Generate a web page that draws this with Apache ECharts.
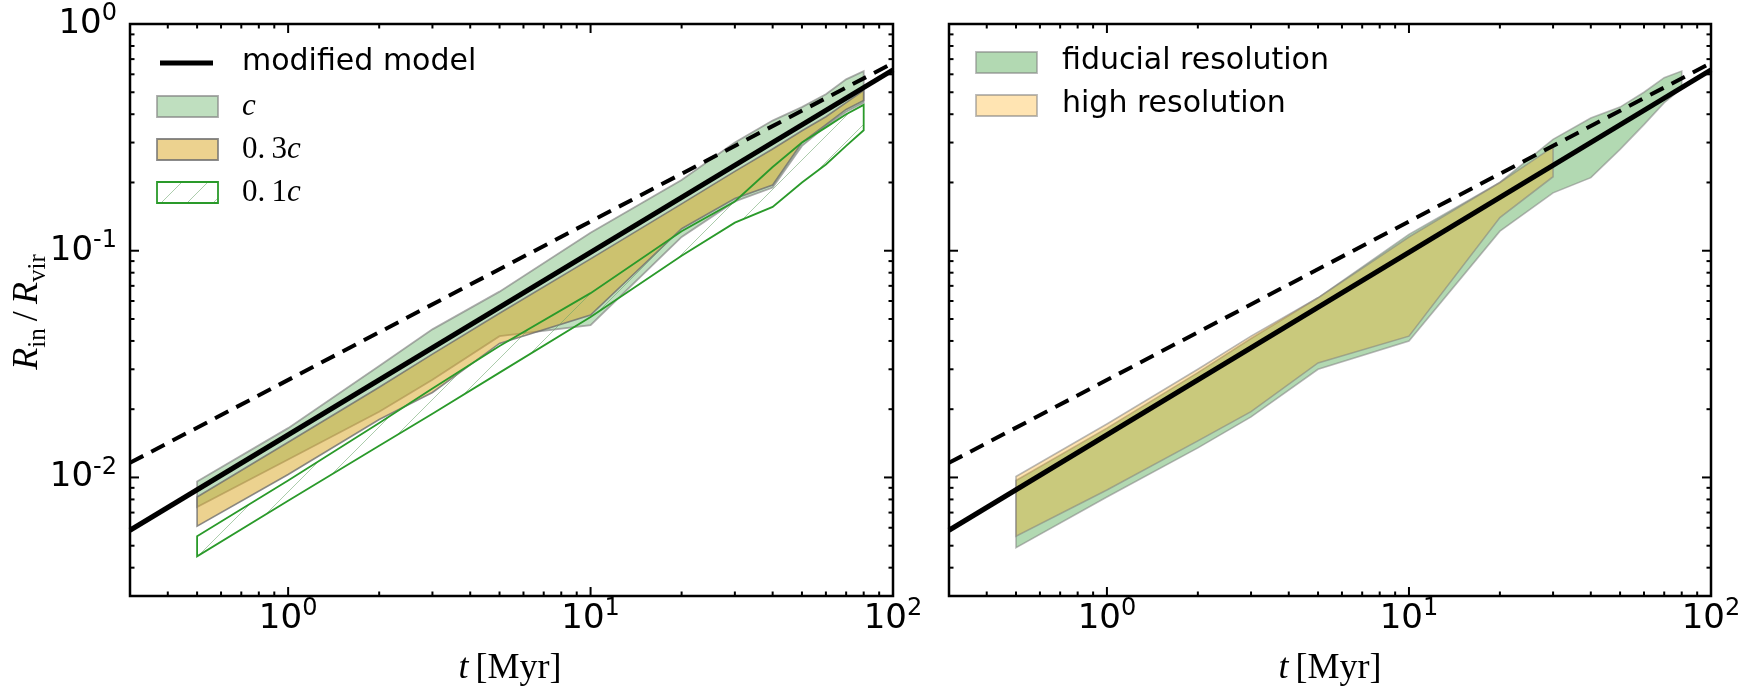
<!DOCTYPE html>
<html>
<head>
<meta charset="utf-8">
<script src="https://cdn.jsdelivr.net/npm/echarts@6.0.0/dist/echarts.min.js"></script>
<style>
  html, body { margin: 0; padding: 0; background: #fff; }
  #chart { width: 1738px; height: 690px; }
</style>
</head>
<body>
<div id="chart"></div>
<script>
// axis ranges
const xMin = 0.3, xMax = 100;
const yMin = 0.003, yMax = 1;

// tick values
const xMajor = [1, 10, 100];
const xMinor = [0.4, 0.5, 0.6, 0.7, 0.8, 0.9, 2, 3, 4, 5, 6, 7, 8, 9, 20, 30, 40, 50, 60, 70, 80, 90];
const yMajor = [0.01, 0.1, 1];
const yMinor = [0.004, 0.005, 0.006, 0.007, 0.008, 0.009, 0.02, 0.03, 0.04, 0.05, 0.06, 0.07, 0.08, 0.09,
                0.2, 0.3, 0.4, 0.5, 0.6, 0.7, 0.8, 0.9];

// model lines (straight in log-log), same in both panels
const modelLine = [[0.3, 0.00585], [100, 0.627]];
const dashedLine = [[0.3, 0.0116], [100, 0.673]];

// left panel: bands for c, 0.3c, 0.1c
const tLeft = [0.5, 1, 2, 3, 5, 10, 20, 30, 40, 50, 60, 70, 80];
const cTop  = [0.0096, 0.0165, 0.031, 0.045, 0.066, 0.12, 0.205, 0.30, 0.375, 0.43, 0.49, 0.57, 0.62];
const cBot  = [0.0074, 0.012, 0.0195, 0.027, 0.042, 0.047, 0.115, 0.165, 0.19, 0.29, 0.355, 0.41, 0.45];
const c3Top = [0.0082, 0.0143, 0.025, 0.035, 0.053, 0.092, 0.161, 0.224, 0.281, 0.338, 0.39, 0.45, 0.51];
const c3Bot = [0.0061, 0.0103, 0.018, 0.0237, 0.039, 0.052, 0.125, 0.17, 0.195, 0.30, 0.36, 0.42, 0.46];
const c1Top = [0.0055, 0.0097, 0.0174, 0.0247, 0.038, 0.065, 0.122, 0.165, 0.234, 0.30, 0.35, 0.40, 0.44];
const c1Bot = [0.00449, 0.0079, 0.0138, 0.0191, 0.029, 0.051, 0.095, 0.133, 0.156, 0.20, 0.24, 0.29, 0.34];

// right panel: fiducial and high resolution
const tFid   = [0.5, 1, 2, 3, 5, 10, 20, 30, 40, 50, 60, 70, 80];
const fidTop = [0.0097, 0.0165, 0.029, 0.041, 0.062, 0.118, 0.20, 0.31, 0.385, 0.43, 0.50, 0.58, 0.62];
const fidBot = [0.0049, 0.0082, 0.0135, 0.0185, 0.030, 0.040, 0.122, 0.18, 0.21, 0.28, 0.36, 0.45, 0.52];
const tHigh   = [0.5, 1, 2, 3, 5, 10, 20, 30];
const highTop = [0.0101, 0.0172, 0.030, 0.042, 0.062, 0.115, 0.20, 0.287];
const highBot = [0.0055, 0.0088, 0.0145, 0.0195, 0.032, 0.042, 0.14, 0.212];

const chart = echarts.init(document.getElementById('chart'));

// hatch pattern for the 0.1c band
function hatchCanvas() {
    const s = 26;
    const c = document.createElement('canvas');
    c.width = s; c.height = s;
    const g = c.getContext('2d');
    g.strokeStyle = 'rgba(100,160,100,0.6)';
    g.lineWidth = 0.9;
    g.beginPath();
    g.moveTo(0, s); g.lineTo(s, 0);
    g.moveTo(-3, 3); g.lineTo(3, -3);
    g.moveTo(s - 3, s + 3); g.lineTo(s + 3, s - 3);
    g.stroke();
    return c;
}
const hatch = { image: hatchCanvas(), repeat: 'repeat' };

// tick labels like 10^-1
const powRich = {
    b: { fontSize: 34, fontFamily: 'DejaVu Sans', color: '#000', lineHeight: 44, verticalAlign: 'middle' },
    s: { fontSize: 24, fontFamily: 'DejaVu Sans', color: '#000', lineHeight: 24, verticalAlign: 'top' }
};
function powLabel(v) {
    const e = Math.log10(v);
    const r = Math.round(e);
    if (Math.abs(e - r) > 1e-6) return '';
    return '{b|10}{s|' + r + '}';
}

function xAxisFor(i) {
    return {
        type: 'log', logBase: 10, gridIndex: i, min: xMin, max: xMax,
        axisLine: { show: false }, axisTick: { show: false },
        splitLine: { show: false }, minorTick: { show: false }, minorSplitLine: { show: false },
        axisLabel: { margin: 1, formatter: powLabel, rich: powRich }
    };
}
function yAxisFor(i) {
    return {
        type: 'log', logBase: 10, gridIndex: i, min: yMin, max: yMax,
        axisLine: { show: false }, axisTick: { show: false },
        splitLine: { show: false }, minorTick: { show: false }, minorSplitLine: { show: false },
        axisLabel: { show: i === 0, margin: 13, formatter: powLabel, rich: powRich }
    };
}

// filled band between top and bottom curves
function bandSeries(i, ts, top, bot, style) {
    return {
        type: 'custom', xAxisIndex: i, yAxisIndex: i, silent: true,
        data: ts.map((t, k) => [t, top[k], bot[k]]),
        encode: { x: 0, y: 1 },
        renderItem: (params, api) => {
            if (params.dataIndex !== 0) return null;
            const pts = [];
            for (let k = 0; k < ts.length; k++) pts.push(api.coord([ts[k], top[k]]));
            for (let k = ts.length - 1; k >= 0; k--) pts.push(api.coord([ts[k], bot[k]]));
            return { type: 'polygon', shape: { points: pts }, style: style };
        }
    };
}

function lineSeries(i, data, dashed) {
    return {
        type: 'line', xAxisIndex: i, yAxisIndex: i, data: data, silent: true,
        symbol: 'none', animation: false,
        lineStyle: { color: '#000', width: dashed ? 4 : 5, type: dashed ? [15, 9] : 'solid', cap: 'butt' }
    };
}

// inward ticks on all four sides
function tickSeries(i, vals, dir, len) {
    return {
        type: 'custom', xAxisIndex: i, yAxisIndex: i, silent: true, z: 5,
        data: vals.map(v => dir === 'x' ? [v, yMin] : [xMin, v]),
        encode: { x: 0, y: 1 },
        renderItem: (params, api) => {
            const v = api.value(dir === 'x' ? 0 : 1);
            const st = { stroke: '#000', lineWidth: 2 };
            if (dir === 'x') {
                const a = api.coord([v, yMin]), b = api.coord([v, yMax]);
                return { type: 'group', children: [
                    { type: 'line', shape: { x1: a[0], y1: a[1], x2: a[0], y2: a[1] - len }, style: st },
                    { type: 'line', shape: { x1: b[0], y1: b[1], x2: b[0], y2: b[1] + len }, style: st }
                ] };
            }
            const a = api.coord([xMin, v]), b = api.coord([xMax, v]);
            return { type: 'group', children: [
                { type: 'line', shape: { x1: a[0], y1: a[1], x2: a[0] + len, y2: a[1] }, style: st },
                { type: 'line', shape: { x1: b[0], y1: b[1], x2: b[0] - len, y2: b[1] }, style: st }
            ] };
        }
    };
}

const series = [
    bandSeries(0, tLeft, cTop, cBot, { fill: 'rgba(0,128,0,0.25)', stroke: 'rgba(128,128,128,0.65)', lineWidth: 1.8 }),
    bandSeries(0, tLeft, c3Top, c3Bot, { fill: 'rgba(218,165,32,0.5)', stroke: 'rgba(110,110,110,0.8)', lineWidth: 1.6 }),
    bandSeries(0, tLeft, c1Top, c1Bot, { fill: hatch, stroke: '#2a9a2a', lineWidth: 1.8 }),
    lineSeries(0, dashedLine, true),
    lineSeries(0, modelLine, false),
    bandSeries(1, tFid, fidTop, fidBot, { fill: 'rgba(0,128,0,0.3)', stroke: 'rgba(128,128,128,0.55)', lineWidth: 1.6 }),
    bandSeries(1, tHigh, highTop, highBot, { fill: 'rgba(255,165,0,0.3)', stroke: 'rgba(128,128,128,0.55)', lineWidth: 1.6 }),
    lineSeries(1, dashedLine, true),
    lineSeries(1, modelLine, false)
];
[0, 1].forEach(i => {
    series.push(tickSeries(i, xMajor, 'x', 9), tickSeries(i, xMinor, 'x', 4.5),
                tickSeries(i, yMajor, 'y', 9), tickSeries(i, yMinor, 'y', 4.5));
});

const serif = 'Liberation Serif';
const mathRich = {
    i: { fontFamily: serif, fontStyle: 'italic', fontSize: 31, color: '#000', lineHeight: 40, verticalAlign: 'middle' },
    n: { fontFamily: serif, fontSize: 31, color: '#000', lineHeight: 40, verticalAlign: 'middle' }
};
const labelRich = {
    i: { fontFamily: serif, fontStyle: 'italic', fontSize: 36, color: '#000', lineHeight: 46, verticalAlign: 'middle' },
    n: { fontFamily: serif, fontSize: 36, color: '#000', lineHeight: 46, verticalAlign: 'middle' },
    sub: { fontFamily: serif, fontSize: 25, color: '#000', lineHeight: 46, verticalAlign: 'bottom' }
};

function legendBox(x, y, fill, stroke) {
    return { type: 'rect', shape: { x: x, y: y, width: 61, height: 21 }, style: { fill: fill, stroke: stroke, lineWidth: 1.8 } };
}
function legendText(x, y, text, rich, font) {
    const st = { x: x, y: y, text: text, textVerticalAlign: 'middle', fill: '#000' };
    if (rich) st.rich = rich; else { st.font = font; }
    return { type: 'text', style: st };
}

const legendFont = '30px "DejaVu Sans"';
const graphic = [
    // left legend
    { type: 'line', shape: { x1: 160, y1: 63, x2: 213, y2: 63 }, style: { stroke: '#000', lineWidth: 5 } },
    legendText(242, 62, 'modified model', null, legendFont),
    legendBox(157, 96, 'rgba(0,128,0,0.25)', 'rgba(128,128,128,0.65)'),
    legendText(242, 107, '{i|c}', mathRich),
    legendBox(157, 139, 'rgba(218,165,32,0.5)', 'rgba(110,110,110,0.8)'),
    legendText(242, 150, '{n|0.\u20093}{i|c}', mathRich),
    legendBox(157, 182, hatch, '#2a9a2a'),
    legendText(242, 193, '{n|0.\u20091}{i|c}', mathRich),
    // right legend
    legendBox(976, 52, 'rgba(0,128,0,0.3)', 'rgba(128,128,128,0.55)'),
    legendText(1062, 61, 'fiducial resolution', null, legendFont),
    legendBox(976, 95, 'rgba(255,165,0,0.3)', 'rgba(128,128,128,0.55)'),
    legendText(1062, 104, 'high resolution', null, legendFont),
    // axis titles
    { type: 'text', x: 510, y: 669, style: { text: '{i|t}{n|\u2009[Myr]}', rich: labelRich, textAlign: 'center', textVerticalAlign: 'middle' } },
    { type: 'text', x: 1330, y: 669, style: { text: '{i|t}{n|\u2009[Myr]}', rich: labelRich, textAlign: 'center', textVerticalAlign: 'middle' } },
    { type: 'text', x: 28, y: 312, rotation: Math.PI / 2,
      style: { text: '{i|R}{sub|in}{n|\u2009/\u2009}{i|R}{sub|vir}', rich: labelRich, textAlign: 'center', textVerticalAlign: 'middle' } }
];

chart.setOption({
    animation: false,
    backgroundColor: '#fff',
    grid: [
        { left: 130, top: 24, width: 763, height: 572, show: true, borderColor: '#000', borderWidth: 2.5, outerBoundsMode: 'none' },
        { left: 949, top: 24, width: 762, height: 572, show: true, borderColor: '#000', borderWidth: 2.5, outerBoundsMode: 'none' }
    ],
    xAxis: [xAxisFor(0), xAxisFor(1)],
    yAxis: [yAxisFor(0), yAxisFor(1)],
    series: series,
    graphic: graphic
});
</script>
</body>
</html>
